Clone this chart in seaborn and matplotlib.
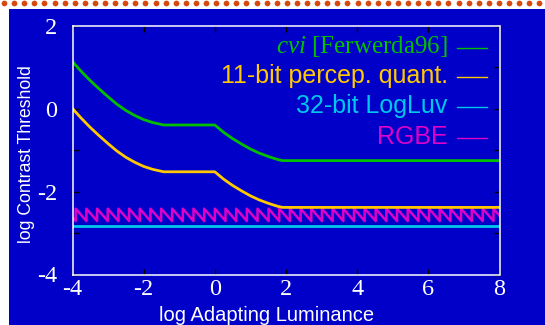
import numpy as np
import pandas as pd
import matplotlib
matplotlib.use('Agg')
import matplotlib.pyplot as plt
import seaborn as sns

# values
lum_x = [-4, -3.94, -3.75, -3.5, -3.25, -3, -2.75, -2.5, -2.25, -2, -1.75, -1.44,
         0, 0.25, 0.5, 0.75, 1, 1.25, 1.5, 1.75, 1.9, 8]
cvi_y = [1.14, 1.08, 0.90, 0.68, 0.48, 0.29, 0.11, -0.04, -0.16, -0.26, -0.33, -0.39,
         -0.39, -0.57, -0.72, -0.85, -0.97, -1.07, -1.15, -1.22, -1.25, -1.25]
quant_y = [0.01, -0.05, -0.23, -0.45, -0.65, -0.84, -1.02, -1.17, -1.29, -1.39, -1.46, -1.52,
           -1.52, -1.70, -1.85, -1.98, -2.10, -2.20, -2.28, -2.35, -2.38, -2.38]
logluv_x = [-4, 8]
logluv_y = [-2.84, -2.84]
rgbe_jumps = [-3.91, -3.61, -3.31, -3.01, -2.71, -2.41, -2.11, -1.81, -1.51, -1.20,
              -0.90, -0.60, -0.30, 0.00, 0.30, 0.60, 0.90, 1.20, 1.51, 1.81,
              2.11, 2.41, 2.71, 3.01, 3.31, 3.61, 3.91, 4.21, 4.52, 4.82,
              5.12, 5.42, 5.72, 6.02, 6.32, 6.62, 6.92, 7.22, 7.53, 7.83]
rgbe_hi = -2.41
rgbe_lo = -2.71
rgbe_start = -2.62
rgbe_end = -2.58

labels = ['cvi [Ferwerda96]', '11-bit percep. quant.', '32-bit LogLuv', 'RGBE']
colors = ['#00c000', '#ffc800', '#00c8ec', '#dc00c8']
blue = '#0000c8'

plt.rcParams['axes.unicode_minus'] = False
plt.rcParams['mathtext.fontset'] = 'custom'
plt.rcParams['mathtext.rm'] = 'Liberation Serif'
plt.rcParams['mathtext.it'] = 'Liberation Serif:italic'

# sawtooth table for RGBE
rx, ry = [-4], [rgbe_start]
for j in rgbe_jumps:
    rx += [j, j]
    ry += [rgbe_lo, rgbe_hi]
rx.append(8)
ry.append(rgbe_end)
rgbe = pd.DataFrame({'x': rx, 'y': ry})
curves = pd.DataFrame({'x': lum_x, 'cvi': cvi_y, 'quant': quant_y})
logluv = pd.DataFrame({'x': logluv_x, 'y': logluv_y})

W, H = 545, 325
fig = plt.figure(figsize=(W / 100, H / 100), dpi=100)
fig.patch.set_facecolor('white')

# page background: blue panel and dotted border on top
bg = fig.add_axes([0, 0, 1, 1], zorder=-2)
bg.set_xlim(0, W)
bg.set_ylim(H, 0)
bg.axis('off')
bg.add_patch(plt.Rectangle((9, 9), W, H, color=blue, lw=0))
dots = np.arange(4, W, 10.1)
bg.scatter(dots, np.full(len(dots), 2.7), s=17, color='#d6480e', lw=0)

ax = fig.add_axes([72.5 / W, 1 - 274.5 / H, 427 / W, 248.5 / H])
ax.set_facecolor(blue)

sns.lineplot(data=rgbe, x='x', y='y', ax=ax, color=colors[3], lw=1.8,
             estimator=None, sort=False)
sns.lineplot(data=logluv, x='x', y='y', ax=ax, color=colors[2], lw=2.0,
             estimator=None, sort=False)
sns.lineplot(data=curves, x='x', y='quant', ax=ax, color=colors[1], lw=2.0,
             estimator=None, sort=False)
sns.lineplot(data=curves, x='x', y='cvi', ax=ax, color=colors[0], lw=2.0,
             estimator=None, sort=False)

ax.set_xlim(-4, 8)
ax.set_ylim(-4, 2)
ax.set_xticks(range(-4, 9, 2))
ax.set_xticklabels([str(v) for v in range(-4, 9, 2)])
ax.set_yticks(range(-4, 3))
ax.set_yticklabels([str(v) if v % 2 == 0 else '' for v in range(-4, 3)])
for lab in ax.get_xticklabels() + ax.get_yticklabels():
    lab.set_fontfamily('Liberation Serif')
    lab.set_fontsize(17.5)
ax.tick_params(direction='in', length=4, width=1, color='black', labelcolor='white',
               top=True, right=True)
ax.tick_params(axis='x', pad=3)
ax.tick_params(axis='y', pad=11)
for sp in ax.spines.values():
    sp.set_color('white')
    sp.set_linewidth(1.1)

ax.set_xlabel('log Adapting Luminance', fontfamily='Liberation Sans', fontsize=14.5,
              color='white', va='center')
ax.xaxis.set_label_coords(0.455, -0.163)
ax.set_ylabel('log Contrast Threshold', fontfamily='Liberation Sans', fontsize=12.7,
              color='white', va='center')
ax.yaxis.set_label_coords(-0.107, 0.485)

# gnuplot style key: text right aligned, sample to its right
key = fig.add_axes([0, 0, 1, 1], zorder=5)
key.set_xlim(0, W)
key.set_ylim(H, 0)
key.axis('off')
key_y = [46.7, 76, 106.3, 137]
key_text = [r'$\mathit{cvi}$ [Ferwerda96]', labels[1], labels[2], labels[3]]
key_font = ['Liberation Serif', 'Liberation Sans', 'Liberation Sans', 'Liberation Sans']
for t, f, c, y in zip(key_text, key_font, colors, key_y):
    key.text(447.7, y, t, ha='right', va='center', fontfamily=f, fontsize=18, color=c)
    key.plot([457, 487], [y + 1, y + 1], color=c, lw=1.0)

fig.savefig('out.png', dpi=100)
